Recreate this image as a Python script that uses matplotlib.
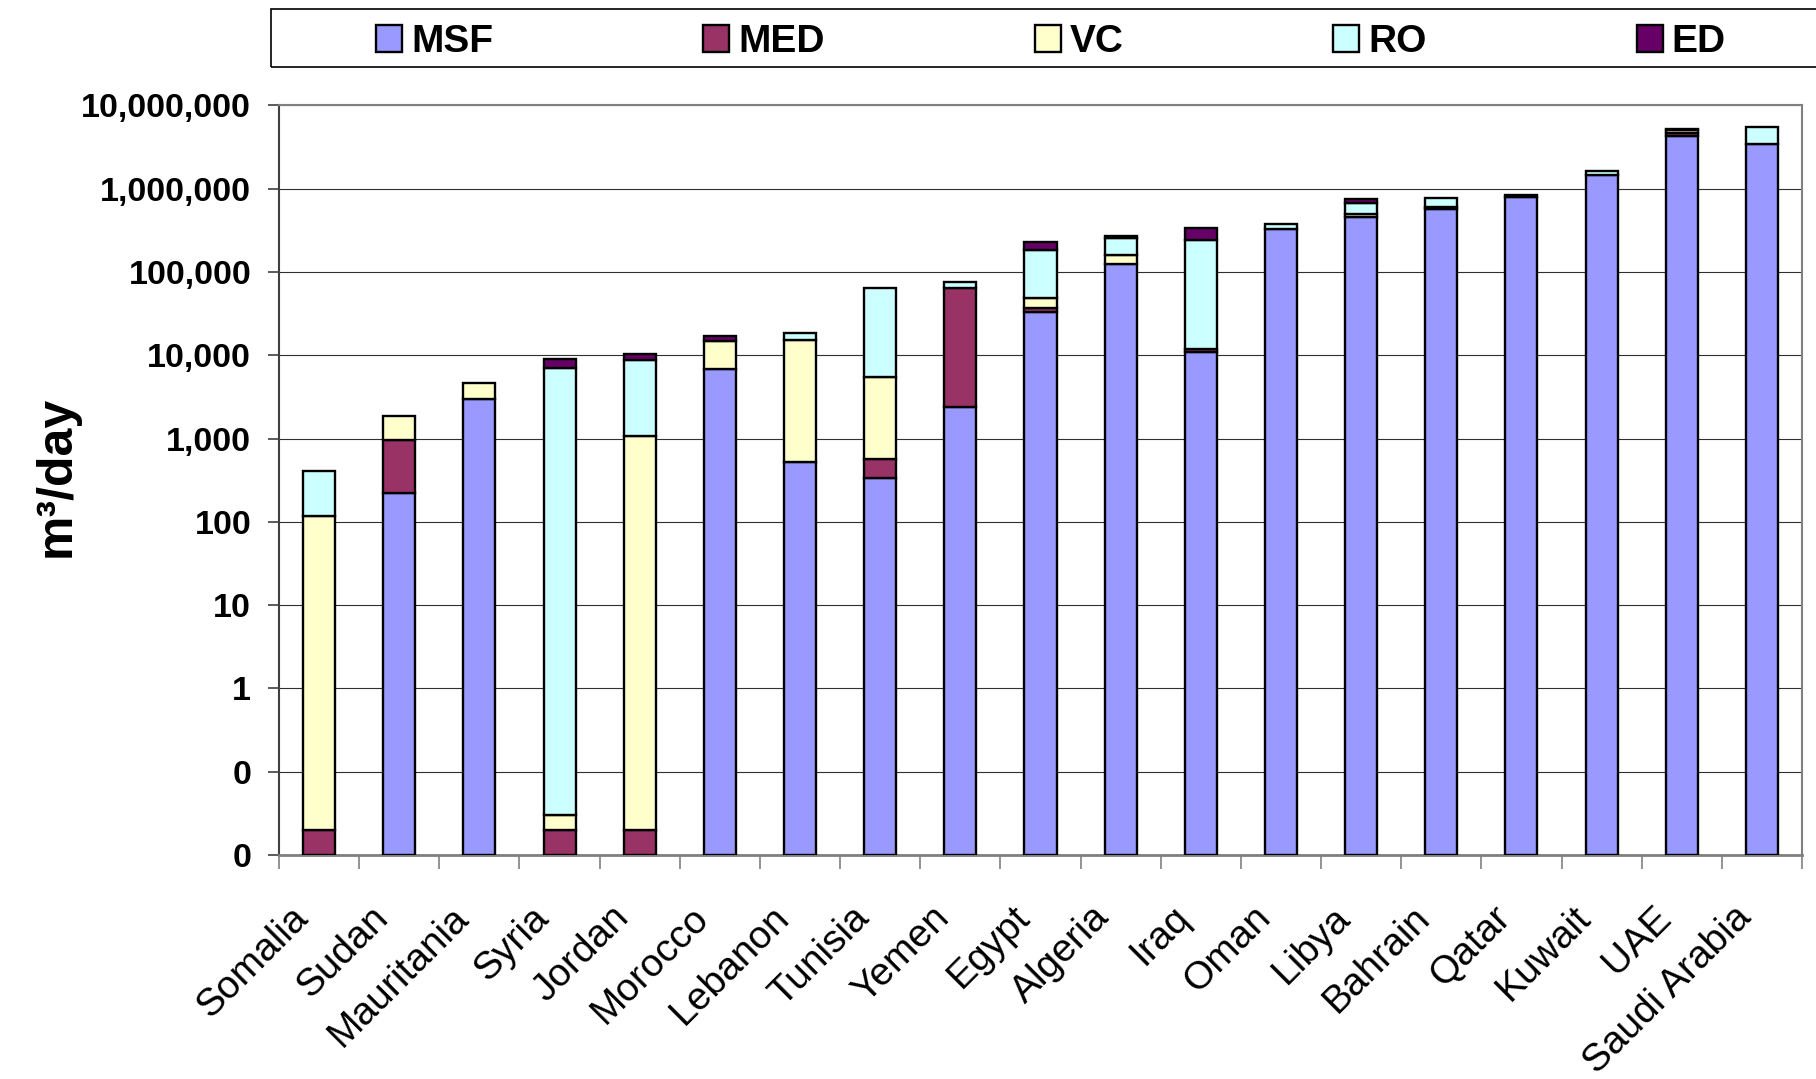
import numpy as np
import matplotlib
matplotlib.use("Agg")
import matplotlib.pyplot as plt
from matplotlib.patches import Rectangle
from matplotlib.transforms import ScaledTranslation

plt.rcParams['font.family'] = ['Liberation Sans', 'DejaVu Sans']

# --- data (m3/day) ---
countries = ["Somalia", "Sudan", "Mauritania", "Syria", "Jordan", "Morocco",
             "Lebanon", "Tunisia", "Yemen", "Egypt", "Algeria", "Iraq", "Oman",
             "Libya", "Bahrain", "Qatar", "Kuwait", "UAE", "Saudi Arabia"]
msf = [0, 220, 3000, 0, 0, 6900, 516, 337, 2400, 33000, 124000, 10900, 327000,
       460000, 574000, 790000, 1440000, 4350000, 3440000]
med = [0.02, 750, 0, 0.02, 0.02, 0, 0, 225, 61800, 3900, 0, 1100, 0,
       0, 25000, 40000, 0, 300000, 0]
vc = [119, 920, 1630, 0.01, 1084, 8100, 14800, 4900, 0, 11700, 34000, 0, 0,
      36000, 0, 0, 0, 350000, 0]
ro = [290, 0, 0, 6950, 7780, 0, 3400, 59200, 10600, 136400, 95000, 231000, 51000,
      170000, 170000, 0, 210000, 220000, 2020000]
ed = [0, 0, 0, 2100, 1540, 1900, 0, 0, 0, 43000, 14000, 90000, 0,
      78000, 0, 0, 0, 0, 0]

series = [("MSF", msf, "#9999FF"),
          ("MED", med, "#993366"),
          ("VC", vc, "#FFFFCC"),
          ("RO", ro, "#CCFFFF"),
          ("ED", ed, "#660066")]

yticks = [10.0 ** k for k in range(-2, 8)]
YMIN, YMAX = 0.01, 1e7

fig = plt.figure(figsize=(18.16, 10.79), dpi=100)
ax = fig.add_axes([279 / 1816, 224 / 1079, (1802 - 279) / 1816, (855 - 105.4) / 1079])
ax.set_yscale('log')

x = np.arange(len(countries))
cum = np.zeros(len(countries))
handles, names = [], []
for name, vals, col in series:
    v = np.array(vals, dtype=float)
    base = np.maximum(cum, YMIN)
    top = cum + v
    m = v > 0
    bars = ax.bar(x[m], top[m] - base[m], bottom=base[m], width=0.4, color=col,
                  edgecolor='black', linewidth=1.7, zorder=3)
    handles.append(bars)
    names.append(name)
    cum = top

ax.set_ylim(YMIN, YMAX)
ax.set_xlim(-0.5, len(countries) - 0.5)
ax.set_yticks(yticks, labels=[f"{t:,.0f}" for t in yticks], fontweight='bold', fontsize=24.5)
ax.minorticks_off()
ax.tick_params(axis='y', length=8, width=1.2, color='#404040', pad=12)
ax.grid(axis='y', color='#303030', linewidth=0.8, zorder=0)

# ticks between categories, labels at centres
ax.set_xticks(np.arange(-0.5, len(countries), 1.0))
ax.set_xticklabels([])
ax.set_xticks(x, minor=True)
ax.set_xticklabels(countries, minor=True, rotation=45, ha='right',
                   rotation_mode='anchor', fontsize=28)
ax.tick_params(axis='x', which='major', length=10, width=1.2, color='#808080')
ax.tick_params(axis='x', which='minor', length=0, pad=32)
for lbl in ax.get_xticklabels(minor=True):
    lbl.set_transform(lbl.get_transform() + ScaledTranslation(-21 / 72, 0, fig.dpi_scale_trans))

ax.spines['left'].set_color('#404040')
ax.spines['left'].set_linewidth(1.5)
ax.spines['bottom'].set_color('#808080')
ax.spines['bottom'].set_linewidth(2)
for s in ('top', 'right'):
    ax.spines[s].set_color('#808080')
    ax.spines[s].set_linewidth(1.5)

fig.text(56.7 / 1816, 0.5589, "m³/day", rotation=90, ha='center', va='center',
         fontsize=36, fontweight='bold')

# legend strip across the top
fig.add_artist(Rectangle((271 / 1816, 1 - 66.7 / 1079), 1.0, 57.7 / 1079,
                         transform=fig.transFigure, fill=False,
                         edgecolor='black', linewidth=1.2))
fig.legend(handles, names, ncol=5, loc='center left',
           bbox_to_anchor=(376 / 1816, 1 - 42 / 1079), frameon=False,
           prop={'weight': 'bold', 'size': 28}, handlelength=0.67,
           handleheight=0.7, handletextpad=0.23, columnspacing=5.4,
           borderpad=0, borderaxespad=0)

fig.savefig("out.png", dpi=100)
